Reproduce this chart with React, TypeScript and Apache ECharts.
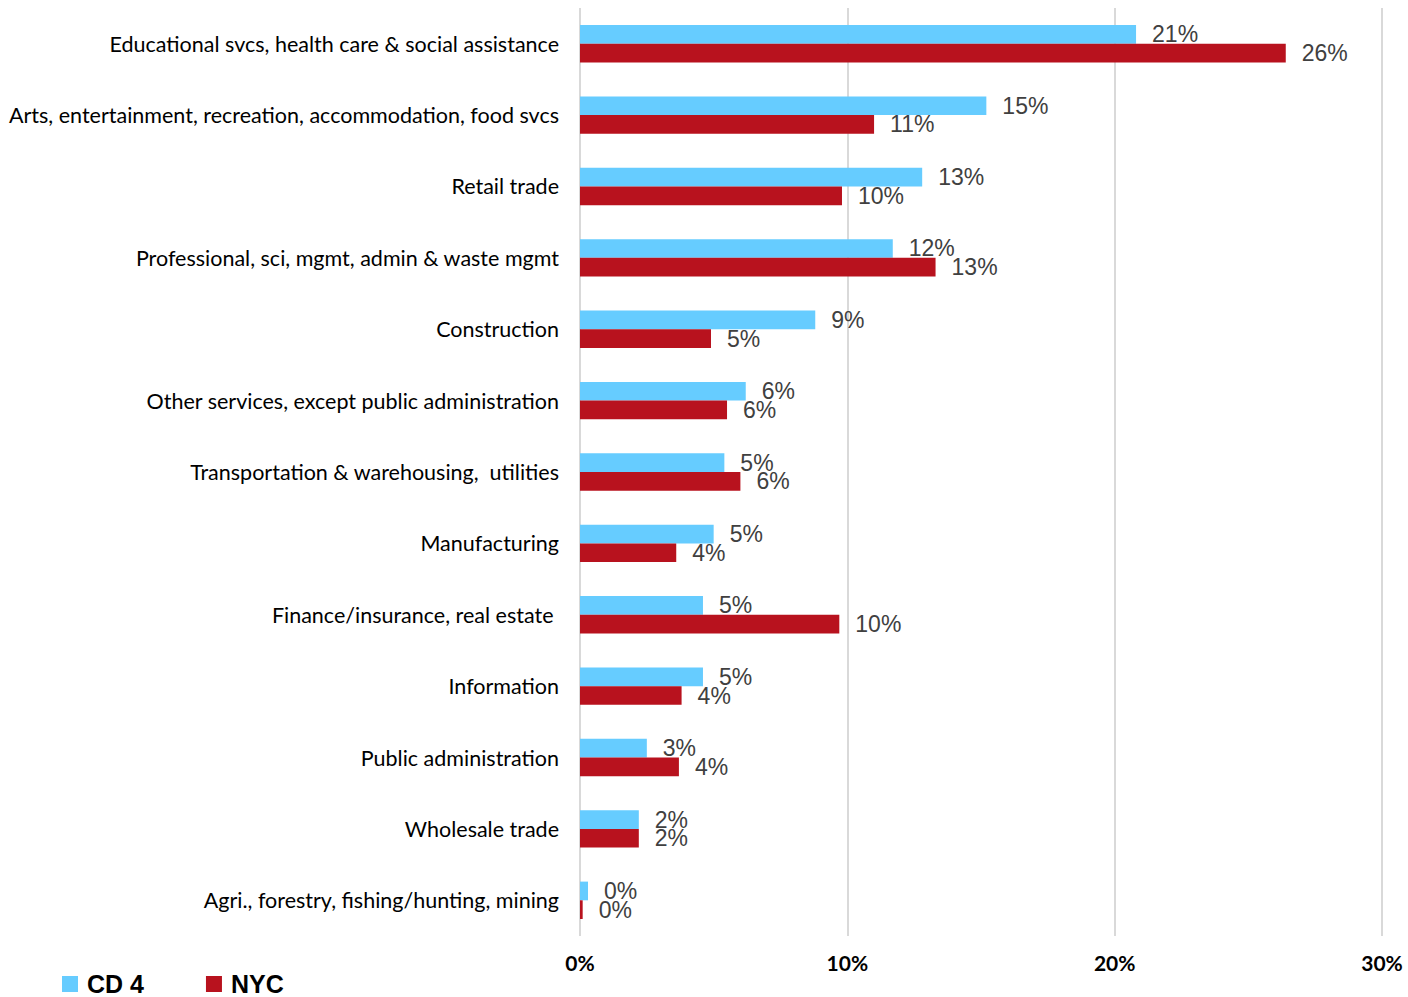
import React, { useEffect, useRef } from "react";
import * as echarts from "echarts";

const categories = [
  "Educational svcs, health care & social assistance",
  "Arts, entertainment, recreation, accommodation, food svcs",
  "Retail trade",
  "Professional, sci, mgmt, admin & waste mgmt",
  "Construction",
  "Other services, except public administration",
  "Transportation & warehousing,  utilities",
  "Manufacturing",
  "Finance/insurance, real estate ",
  "Information",
  "Public administration",
  "Wholesale trade",
  "Agri., forestry, fishing/hunting, mining",
];

const cd4Values = [20.8, 15.2, 12.8, 11.7, 8.8, 6.2, 5.4, 5.0, 4.6, 4.6, 2.5, 2.2, 0.3];
const nycValues = [26.4, 11.0, 9.8, 13.3, 4.9, 5.5, 6.0, 3.6, 9.7, 3.8, 3.7, 2.2, 0.1];

const xTicks = [0, 10, 20, 30];

export default function App() {
  const ref = useRef<HTMLDivElement>(null);
  useEffect(() => {
    if (!ref.current) return;
    const chart = echarts.init(ref.current, null, { renderer: "svg" });
    const labelStyle = {
      show: true,
      position: "right",
      distance: 16,
      fontFamily: "Liberation Sans, Arial, sans-serif",
      fontSize: 23,
      color: "#404040",
      formatter: (p: any) => Math.round(p.value) + "%",
    };
    chart.setOption({
      animation: false,
      grid: { left: 580, right: 26, top: 8, bottom: 61, containLabel: false },
      legend: {
        left: 62,
        top: 971,
        itemWidth: 16,
        itemHeight: 16,
        itemGap: 62,
        icon: "rect",
        padding: 0,
        textStyle: {
          fontFamily: "Liberation Sans, Arial, sans-serif",
          fontWeight: "bold",
          fontSize: 25,
          lineHeight: 26,
          color: "#000",
          padding: [0, 0, 0, 4],
        },
        data: ["CD 4", "NYC"],
      },
      xAxis: {
        type: "value",
        min: xTicks[0],
        max: xTicks[xTicks.length - 1],
        interval: 10,
        axisLine: { show: false },
        axisTick: { show: false },
        splitLine: { show: true, lineStyle: { color: "#D9D9D9", width: 2 } },
        axisLabel: {
          formatter: (v: number) => v + "%",
          fontFamily: "Lato, Noto Sans, sans-serif",
          fontWeight: "bold",
          fontSize: 21,
          color: "#000",
          margin: 16,
        },
      },
      yAxis: {
        type: "category",
        inverse: true,
        data: categories,
        axisLine: { show: false },
        axisTick: { show: false },
        axisLabel: {
          fontFamily: "Lato, Noto Sans, sans-serif",
          fontSize: 21.5,
          color: "#000",
          margin: 21,
        },
      },
      series: [
        {
          name: "CD 4",
          type: "bar",
          data: cd4Values,
          barWidth: 18.7,
          barGap: "0%",
          itemStyle: { color: "#66CCFF" },
          label: labelStyle,
        },
        {
          name: "NYC",
          type: "bar",
          data: nycValues,
          barWidth: 18.7,
          barGap: "0%",
          itemStyle: { color: "#B8121E" },
          label: labelStyle,
        },
      ],
    });
    return () => chart.dispose();
  }, []);
  return <div ref={ref} style={{ width: 1408, height: 997, position: "absolute", left: 0, top: 0 }} />;
}
